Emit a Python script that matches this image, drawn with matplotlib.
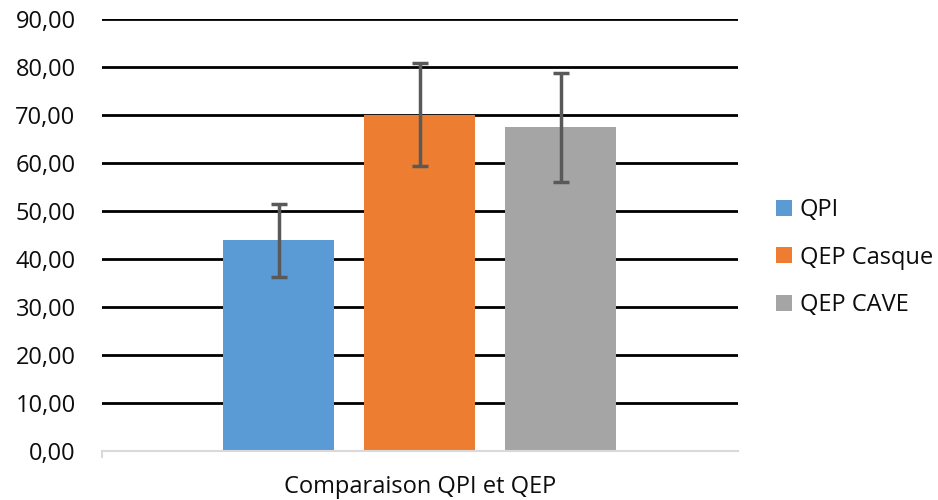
import numpy as np
import matplotlib.pyplot as plt
from matplotlib.ticker import FuncFormatter

# Data
labels = ['QPI', 'QEP Casque', 'QEP CAVE']
means = [43.9, 70.1, 67.4]
errors = [7.6, 10.7, 11.3]
colors = ['#5b9bd5', '#ed7d31', '#a5a5a5']
category = 'Comparaison QPI et QEP'

plt.rcParams['font.family'] = ['Open Sans', 'DejaVu Sans']

fig = plt.figure(figsize=(9.38, 5), dpi=100)
ax = fig.add_axes([0.1087, 0.098, 0.678, 0.864])

# Bars, one per series, grouped around one category
x = np.arange(len(labels)) - (len(labels) - 1) / 2
width = 0.787
for xi, m, e, c, lab in zip(x, means, errors, colors, labels):
    ax.bar(xi, m, width=width, color=c, label=lab, zorder=2)
    ax.errorbar(xi, m, yerr=e, color='#595959', elinewidth=2.5, capsize=6,
                capthick=2.5, zorder=3)

# Axes
ax.set_ylim(0, 90)
ax.set_xlim(-2.255, 2.255)
ax.set_yticks(np.arange(0, 91, 10))
ax.yaxis.set_major_formatter(FuncFormatter(lambda v, p: '{:.2f}'.format(v).replace('.', ',')))
ax.grid(axis='y', color='black', linewidth=2, zorder=1)
ax.set_axisbelow(True)
for s in ['top', 'right', 'left']:
    ax.spines[s].set_visible(False)
ax.spines['bottom'].set_color('#d9d9d9')
ax.spines['bottom'].set_linewidth(1.5)
ax.spines['bottom'].set_zorder(4)
ax.tick_params(axis='y', length=0, pad=19, labelsize=17, labelcolor='#0d0d0d')
ax.set_xticks([0])
ax.set_xticklabels([category])
ax.tick_params(axis='x', length=0, pad=17, labelsize=17, labelcolor='#0d0d0d')

# small category border tick at the left end of the x axis
ax.set_xticks([-2.255], minor=True)
ax.tick_params(axis='x', which='minor', length=5, width=1.5, color='#d9d9d9')

# Legend
leg = fig.legend(loc='center left', bbox_to_anchor=(0.827, 0.485), frameon=False,
                 fontsize=17, handlelength=0.68, handleheight=0.68, handletextpad=0.34,
                 labelspacing=1.0, borderpad=0, borderaxespad=0)
for t in leg.get_texts():
    t.set_color('#0d0d0d')

plt.savefig('out.png', dpi=100)
